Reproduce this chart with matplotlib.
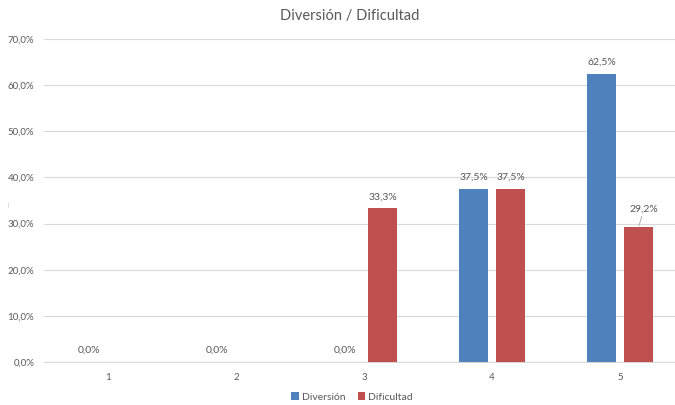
import matplotlib
matplotlib.use("Agg")
import matplotlib.pyplot as plt
from matplotlib.ticker import FuncFormatter

categories = ["1", "2", "3", "4", "5"]
diversion = [0.0, 0.0, 0.0, 37.5, 62.5]
dificultad = [None, None, 33.3, 37.5, 29.2]
series_names = ["Diversión", "Dificultad"]
y_ticks = [0, 10, 20, 30, 40, 50, 60, 70]

BLUE = "#4F81BD"
RED = "#C0504D"
TEXT = "#595959"
GRID = "#D9D9D9"

plt.rcParams["font.family"] = ["Lato", "DejaVu Sans"]

W, H = 675, 405
fig = plt.figure(figsize=(W / 100, H / 100), dpi=100)
left_px, right_px, top_px, bottom_px = 44, 675, 39, 362
ax = fig.add_axes([left_px / W, (H - bottom_px) / H,
                   (right_px - left_px) / W, (bottom_px - top_px) / H])

cat_px = 128.0
x = list(range(1, len(categories) + 1))
bw = 29 / cat_px
off = (29 / 2 + 4) / cat_px

def fmt(v):
    return f"{v:.1f}".replace(".", ",") + "%"

xb = [xi - off for xi in x]
xr = [xi + off for xi in x]
ax.bar(xb, diversion, width=bw, color=BLUE, label=series_names[0], zorder=3)
red_x = [xi for xi, v in zip(xr, dificultad) if v is not None]
red_v = [v for v in dificultad if v is not None]
ax.bar(red_x, red_v, width=bw, color=RED, label=series_names[1], zorder=3)

LBL = 7.5
for xi, v in zip(xb, diversion):
    ax.annotate(fmt(v), (xi, v), xytext=(0, 5), textcoords="offset points",
                ha="center", va="bottom", fontsize=LBL, color=TEXT)
for xi, v in zip(red_x, red_v):
    if xi > 5:
        ax.annotate(fmt(v), (xi, v), xytext=(4, 10), textcoords="offset points",
                    ha="center", va="bottom", fontsize=LBL, color=TEXT,
                    arrowprops=dict(arrowstyle="-", color="#A6A6A6", lw=0.6,
                                    shrinkA=0, shrinkB=1))
    else:
        ax.annotate(fmt(v), (xi, v), xytext=(0, 5), textcoords="offset points",
                    ha="center", va="bottom", fontsize=LBL, color=TEXT)

ax.set_xlim(0.5, 0.5 + (right_px - left_px) / cat_px)
ax.set_ylim(0, 70)
ax.set_yticks(y_ticks)
ax.yaxis.set_major_formatter(FuncFormatter(lambda v, p: fmt(v)))
ax.set_xticks(x)
ax.set_xticklabels(categories)
ax.tick_params(axis="both", length=0, labelsize=7, colors=TEXT)
ax.tick_params(axis="x", pad=8)
ax.tick_params(axis="y", pad=7)
ax.grid(axis="y", color=GRID, lw=0.8, zorder=0)
for s in ["top", "right", "left"]:
    ax.spines[s].set_visible(False)
ax.spines["bottom"].set_color(GRID)
ax.spines["bottom"].set_linewidth(0.8)

fig.text(350 / W, 1 - 16 / H, "Diversión / Dificultad", ha="center", va="center",
         fontsize=10.5, color=TEXT)
fig.text(8 / W, 1 - 205 / H, "|", ha="center", va="center", fontsize=4, color="#A6A6A6")

leg = fig.legend(loc="center", bbox_to_anchor=(352 / W, 1 - 397 / H), ncol=2,
                 frameon=False, fontsize=7.5, handlelength=0.7, handleheight=0.7,
                 handletextpad=0.3, columnspacing=1.2, labelcolor=TEXT)

fig.savefig("out.png", dpi=100, facecolor="white")
